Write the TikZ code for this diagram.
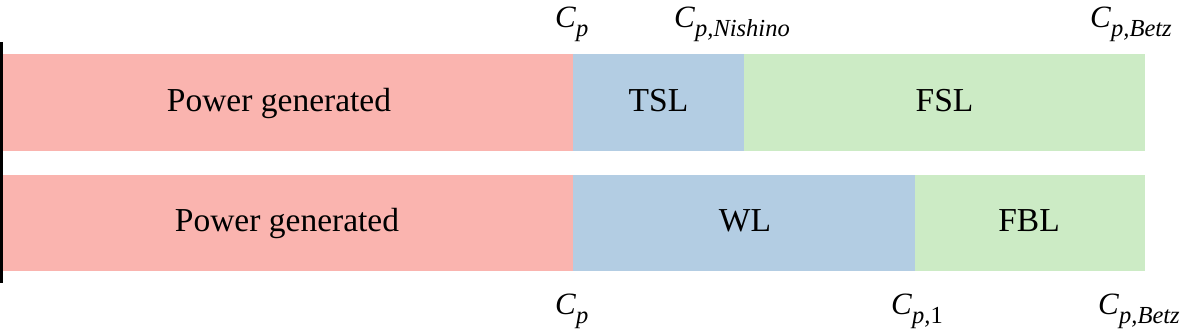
\documentclass[tikz,border=0pt]{standalone}
\usepackage{fontspec}
\setmainfont{Liberation Serif}
\definecolor{cred}{HTML}{FAB4AF}
\definecolor{cblue}{HTML}{B3CDE3}
\definecolor{cgreen}{HTML}{CCEBC5}
\newcommand{\cplab}[1]{\textit{C}\raisebox{-9.5pt}{\fontsize{24.5}{24.5}\selectfont #1}}
\begin{document}
\begin{tikzpicture}[x=1pt,y=-1pt,
  seg/.style={inner sep=0pt, outer sep=0pt, draw=none},
  segtop/.style={seg, minimum height=97pt},
  segbot/.style={seg, minimum height=96pt},
  lbl/.style={anchor=base, inner sep=0pt, font=\fontsize{33.5}{40}\selectfont},
  clab/.style={anchor=base west, inner sep=0pt, font=\fontsize{31}{36}\selectfont}]
\useasboundingbox (0,0) rectangle (1201,335);
% top bar
\node[segtop, fill=cred,   minimum width=573pt] (t1) at (286.5,102.5) {};
\node[segtop, fill=cblue,  minimum width=171pt] (t2) at (658.5,102.5) {};
\node[segtop, fill=cgreen, minimum width=401pt] (t3) at (944.5,102.5) {};
% bottom bar
\node[segbot, fill=cred,   minimum width=573pt] (b1) at (286.5,223) {};
\node[segbot, fill=cblue,  minimum width=342pt] (b2) at (744,223) {};
\node[segbot, fill=cgreen, minimum width=230pt] (b3) at (1030,223) {};
% texts
\node[lbl] (lt1) at (279,111.5) {Power generated};
\node[lbl] (lt2) at (658.5,111.5) {TSL};
\node[lbl] (lt3) at (944.5,111.5) {FSL};
\node[lbl] (lb1) at (287,231) {Power generated};
\node[lbl] (lb2) at (745,231) {WL};
\node[lbl] (lb3) at (1029,231) {FBL};
% C labels
\node[clab] (ct1) at (555,27) {\cplab{\textit{p}}};
\node[clab] (ct2) at (674,27) {\cplab{\textit{p,Nishino}}};
\node[clab] (ct3) at (1090,27) {\cplab{\textit{p,Betz}}};
\node[clab] (cb1) at (555,314) {\cplab{\textit{p}}};
\node[clab] (cb2) at (891,314) {\cplab{\textit{p,}1}};
\node[clab] (cb3) at (1098,314) {\cplab{\textit{p,Betz}}};
% axis line
\coordinate (ax1) at (1.5,42);
\coordinate (ax2) at (1.5,283);
\draw[line width=3pt] (ax1) -- (ax2);
\end{tikzpicture}
\end{document}
